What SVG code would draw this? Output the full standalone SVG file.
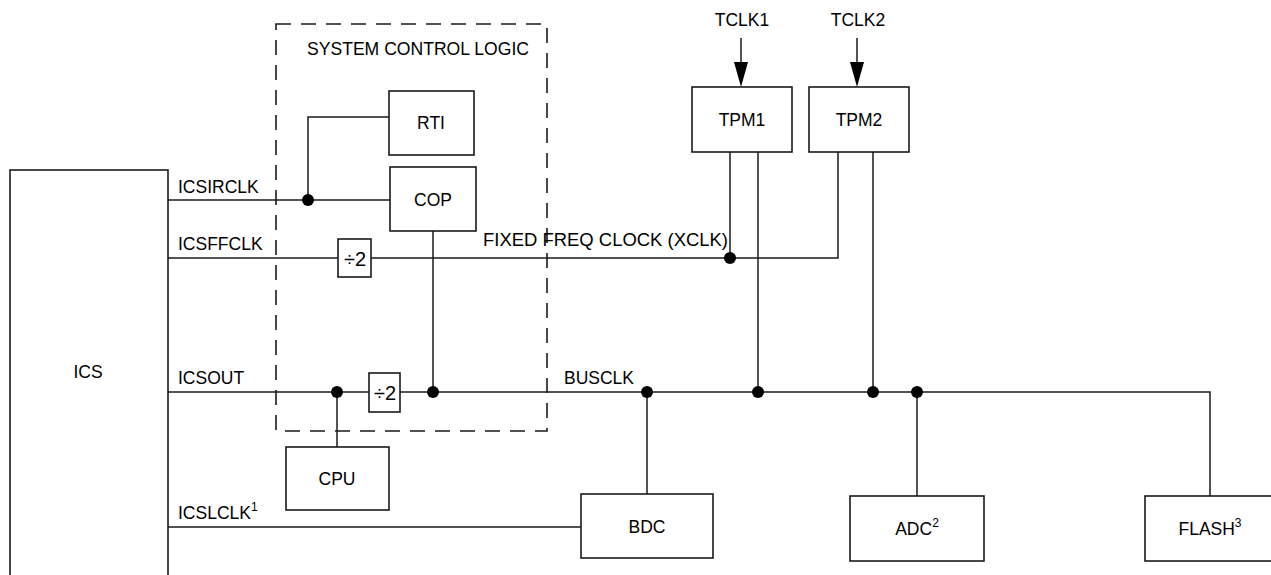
<svg xmlns="http://www.w3.org/2000/svg" width="1271" height="575" viewBox="0 0 1271 575">
<defs>
<style>
.box{fill:#fff;stroke:#1a1a1a;stroke-width:1.6}
.ln{fill:none;stroke:#1a1a1a;stroke-width:1.5}
.dash{fill:none;stroke:#1a1a1a;stroke-width:1.6;stroke-dasharray:15 10}
.dot{fill:#000}
.arrow{fill:#000}
text{font-family:"Liberation Sans",Arial,sans-serif;font-size:17.5px;fill:#000}
.c{text-anchor:middle}
.sup{font-size:12px}
.div{font-size:20px}
</style>
</defs>
<rect width="1271" height="575" fill="#fff"/>

<g id="system-control-logic">
<rect class="dash" x="276" y="24" width="271" height="407"/>
<text class="c" x="418" y="55" textLength="222" lengthAdjust="spacingAndGlyphs">SYSTEM CONTROL LOGIC</text>
</g>

<g id="connectors">
<line class="ln" x1="168" y1="200" x2="390" y2="200"/>
<polyline class="ln" points="308,200 308,117 389,117"/>
<circle class="dot" cx="308" cy="200" r="6"/>
<line class="ln" x1="168" y1="258" x2="338" y2="258"/>
<polyline class="ln" points="371,258 838,258 838,152"/>
<line class="ln" x1="730" y1="152" x2="730" y2="258"/>
<circle class="dot" cx="730" cy="258" r="6"/>
<line class="ln" x1="433" y1="231" x2="433" y2="392"/>
<line class="ln" x1="168" y1="392" x2="369" y2="392"/>
<polyline class="ln" points="400,392 1210,392 1210,496"/>
<line class="ln" x1="337" y1="392" x2="337" y2="447"/>
<circle class="dot" cx="337" cy="392" r="6"/>
<circle class="dot" cx="433" cy="392" r="6"/>
<line class="ln" x1="647" y1="392" x2="647" y2="494"/>
<circle class="dot" cx="647" cy="392" r="6"/>
<line class="ln" x1="758" y1="152" x2="758" y2="392"/>
<circle class="dot" cx="758" cy="392" r="6"/>
<line class="ln" x1="873" y1="152" x2="873" y2="392"/>
<circle class="dot" cx="873" cy="392" r="6"/>
<line class="ln" x1="917" y1="392" x2="917" y2="496"/>
<circle class="dot" cx="917" cy="392" r="6"/>
<line class="ln" x1="168" y1="527" x2="581" y2="527"/>
<line class="ln" x1="741" y1="38" x2="741" y2="70"/>
<path class="arrow" d="M734,62 L748,62 L741,87 Z"/>
<line class="ln" x1="857" y1="38" x2="857" y2="70"/>
<path class="arrow" d="M850,62 L864,62 L857,87 Z"/>
</g>

<g id="labels">
<text x="178" y="193">ICSIRCLK</text>
<text x="178" y="250">ICSFFCLK</text>
<text x="483" y="246" textLength="245" lengthAdjust="spacingAndGlyphs">FIXED FREQ CLOCK (XCLK)</text>
<text x="178" y="384">ICSOUT</text>
<text x="564" y="384">BUSCLK</text>
<text x="178" y="519">ICSLCLK<tspan class="sup" dy="-8">1</tspan></text>
<text class="c" x="742" y="26">TCLK1</text>
<text class="c" x="858" y="26">TCLK2</text>
</g>

<g id="ics">
<rect class="box" x="10" y="170" width="158" height="420"/>
<text class="c" x="88" y="378">ICS</text>
</g>
<g id="rti">
<rect class="box" x="389" y="91" width="85" height="64"/>
<text class="c" x="431" y="129">RTI</text>
</g>
<g id="cop">
<rect class="box" x="390" y="167" width="86" height="64"/>
<text class="c" x="433" y="206">COP</text>
</g>
<g id="div2-ffclk">
<rect class="box" x="338" y="239" width="33" height="38"/>
<text class="c div" x="355" y="266">÷2</text>
</g>
<g id="div2-bus">
<rect class="box" x="369" y="373" width="31" height="39"/>
<text class="c div" x="385" y="400">÷2</text>
</g>
<g id="cpu">
<rect class="box" x="286" y="447" width="103" height="63"/>
<text class="c" x="337" y="485">CPU</text>
</g>
<g id="bdc">
<rect class="box" x="581" y="494" width="132" height="64"/>
<text class="c" x="647" y="533">BDC</text>
</g>
<g id="tpm1">
<rect class="box" x="692" y="87" width="100" height="65"/>
<text class="c" x="742" y="126">TPM1</text>
</g>
<g id="tpm2">
<rect class="box" x="809" y="87" width="100" height="65"/>
<text class="c" x="859" y="126">TPM2</text>
</g>
<g id="adc">
<rect class="box" x="850" y="496" width="134" height="65"/>
<text class="c" x="917" y="535">ADC<tspan class="sup" dy="-8">2</tspan></text>
</g>
<g id="flash">
<rect class="box" x="1145" y="496" width="140" height="65"/>
<text class="c" x="1210" y="535">FLASH<tspan class="sup" dy="-8">3</tspan></text>
</g>
</svg>
